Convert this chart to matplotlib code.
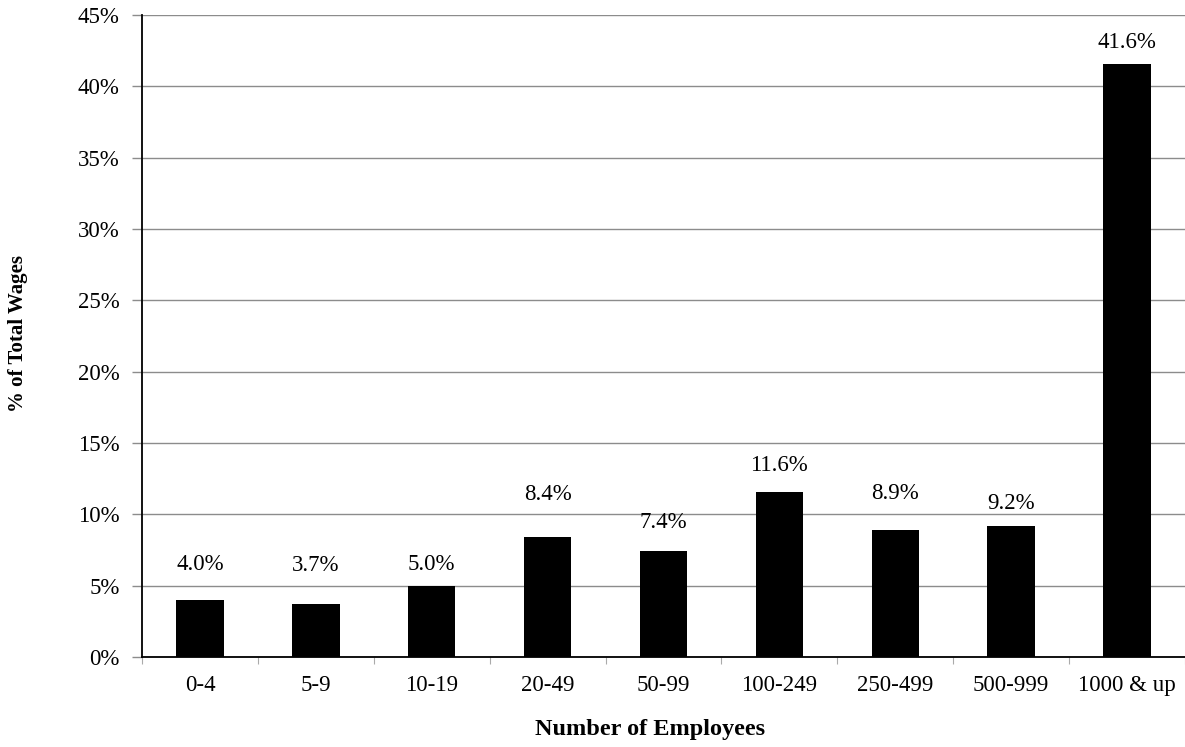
import matplotlib
matplotlib.use("Agg")
import matplotlib.pyplot as plt
from matplotlib.ticker import FuncFormatter, MultipleLocator

plt.rcParams['font.family'] = ['Liberation Serif', 'DejaVu Serif']

categories = ["0-4", "5-9", "10-19", "20-49", "50-99", "100-249", "250-499", "500-999", "1000 & up"]
wage_share = [4.0, 3.7, 5.0, 8.4, 7.4, 11.6, 8.9, 9.2, 41.6]

# vertical gap (pixels) between each bar top and the centre of its value label
label_gap_px = [35, 39, 21, 43, 29, 26, 37, 22, 21]

W, H = 1185, 747
fig = plt.figure(figsize=(W / 100, H / 100), dpi=100)
ax = fig.add_axes([142 / W, 1 - 657 / H, 1 - 142 / W, (657 - 15) / H])

x = range(len(categories))
ax.bar(x, wage_share, width=0.41, color="black", zorder=3)

ax.set_xlim(-0.5, len(categories) - 0.5)
ax.set_ylim(0, 45)
ax.yaxis.set_major_locator(MultipleLocator(5))
ax.yaxis.set_major_formatter(FuncFormatter(lambda v, p: f"{v:.0f}%"))
ax.grid(axis="y", color="#8c8c8c", linewidth=1.0, zorder=0)
ax.set_axisbelow(True)

# category boundaries carry the tick marks, category centres carry the labels
ax.set_xticks([i - 0.5 for i in range(len(categories) + 1)])
ax.set_xticklabels([])
ax.set_xticks(list(x), minor=True)
ax.set_xticklabels(categories, minor=True, fontsize=16.5)
ax.tick_params(axis="x", which="major", length=5, color="#aaaaaa", direction="out")
ax.tick_params(axis="x", which="minor", length=0, pad=13)
ax.tick_params(axis="y", length=7, width=1.0, color="#8c8c8c", labelsize=16.5, pad=9)

for side in ("top", "right"):
    ax.spines[side].set_visible(False)
for side in ("left", "bottom"):
    ax.spines[side].set_color("black")
    ax.spines[side].set_linewidth(1.3)

for i, (v, gap) in enumerate(zip(wage_share, label_gap_px)):
    ax.annotate(f"{v:.1f}%", xy=(i, v), xytext=(0, gap * 0.72),
                textcoords="offset points", ha="center", va="center", fontsize=16.5)

fig.text(650 / W, 1 - 730 / H, "Number of Employees", fontsize=17.5,
         fontweight="bold", ha="center", va="center")
fig.text(18 / W, 1 - 334 / H, "% of Total Wages", rotation=90, fontsize=15,
         fontweight="bold", ha="center", va="center")

fig.savefig("out.png", dpi=100)
